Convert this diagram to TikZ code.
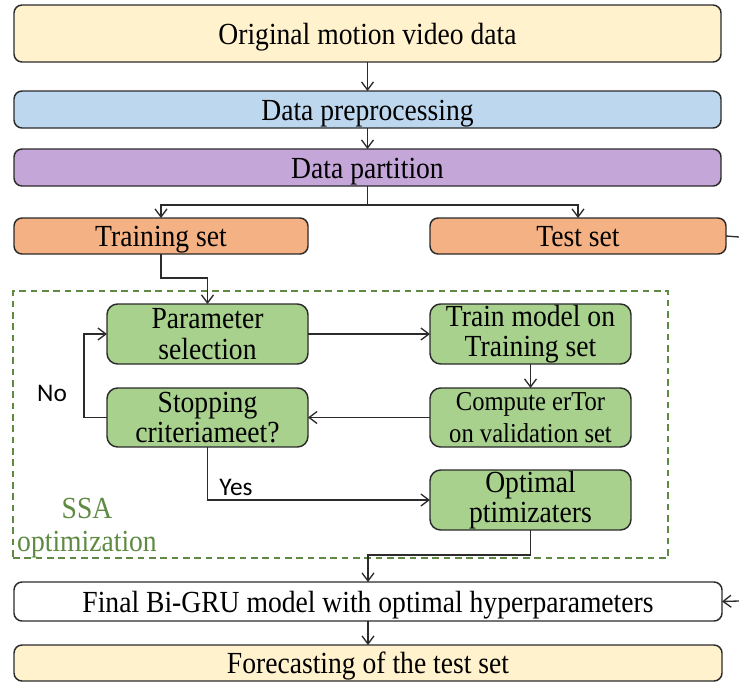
\documentclass[tikz,border=0pt]{standalone}
\usepackage{fontspec}
\setmainfont[FakeStretch=0.9]{Liberation Serif}
\newfontfamily\carlitofont{Carlito}
\usetikzlibrary{arrows.meta,calc}
\definecolor{cyel}{HTML}{FFF2CC}
\definecolor{cblue}{HTML}{BDD7EE}
\definecolor{cpurp}{HTML}{C4A6D8}
\definecolor{corg}{HTML}{F4B183}
\definecolor{cgrn}{HTML}{A9D18E}
\definecolor{cdash}{HTML}{5E8A42}
\definecolor{cedge}{HTML}{2B2B2B}
\newcommand\bx[7]{\node[#6, minimum width={(#4-#2)*0.75pt}, minimum height={(#5-#3)*0.75pt}] (#1) at ({(#2+#4)/2},{(#3+#5)/2}) {#7};}
\tikzset{
  box/.style={draw=cedge, line width=1.1pt, rounded corners=6pt, inner sep=0pt, outer sep=0pt, font=\fontsize{23}{23}\selectfont, align=center},
  sl/.style={text height=17pt, text depth=1pt},
  gbox/.style={box, fill=cgrn, rounded corners=8pt},
  arr/.style={draw=cedge, line width=1pt, -{Straight Barb[length=6pt,width=9pt,line width=1pt]}},
  ln/.style={draw=cedge, line width=1pt},
  ssa/.style={draw=cdash, line width=1pt, dash pattern=on 5pt off 3.5pt, inner sep=0pt},
  lab/.style={font=\carlitofont\fontsize{19}{19}\selectfont, text=black},
}
\begin{document}
\begin{tikzpicture}[x=0.75pt,y=-0.75pt]
\useasboundingbox (0,0) rectangle (739,682);
% dashed region
\bx{ssabox}{13}{291}{668}{558}{ssa}{}
\node[font=\fontsize{23}{25}\selectfont, text=cdash, align=center] (ssat) at (87,528) {SSA\\optimization};
% main boxes
\bx{orig}{14}{5}{721}{62}{box, sl, fill=cyel}{Original motion video data}
\bx{prep}{14}{91}{721}{128}{box, sl, fill=cblue}{Data preprocessing}
\bx{part}{14}{149}{721}{186}{box, sl, fill=cpurp}{Data partition}
\bx{train}{14}{218}{308}{254}{box, sl, fill=corg}{Training set}
\bx{test}{430}{218}{726}{254}{box, sl, fill=corg}{Test set}
\bx{param}{107}{304}{308}{364}{gbox}{Parameter\\selection}
\bx{trainm}{430}{304}{631}{364}{gbox}{Train model on\\Training set}
\bx{comp}{430}{388}{631}{447}{gbox, font=\fontsize{20.5}{24}\selectfont}{Compute erTor\\on validation set}
\bx{stop}{107}{388}{308}{447}{gbox}{Stopping\\criteriameet?}
\bx{opt}{430}{470}{631}{530}{gbox}{Optimal\\ptimizaters}
\bx{final}{14}{582}{722}{621}{box, sl, fill=white}{Final Bi-GRU model with optimal hyperparameters}
\bx{fore}{14}{645}{722}{681}{box, sl, fill=cyel}{Forecasting of the test set}
% connectors
\draw[arr] (orig.south) -- (prep.north);
\draw[arr] (prep.south) -- (part.north);
\coordinate (sp) at (part.south |- 0,205);
\draw[ln] (part.south) -- (sp);
\draw[arr] (sp) -| (train.north);
\draw[arr] (sp) -| (test.north);
\coordinate (testout) at (739,237);
\draw[ln] (test.east) -- (testout);
\coordinate (tp) at (train.south |- 0,278);
\draw[arr] (train.south) -- (tp) -| (param.north);
\draw[arr] (param.east) -- (trainm.west);
\draw[arr] (trainm.south) -- (comp.north);
\draw[arr] (comp.west) -- (stop.east);
\coordinate (nox) at (84,0);
\draw[arr] (stop.west) -- (nox |- stop.west) -- (nox |- param.west) -- (param.west);
\node[lab] (nolab) at (52,393) {No};
\draw[arr] (stop.south) |- (opt.west);
\node[lab] (yeslab) at (236,487) {Yes};
\coordinate (oc) at (final.north |- 0,555);
\draw[arr] (opt.south) |- (oc) -- (final.north);
\coordinate (finin) at (739,601);
\draw[arr] (finin) -- (final.east);
\draw[arr] (final.south) -- (fore.north);
\end{tikzpicture}
\end{document}
